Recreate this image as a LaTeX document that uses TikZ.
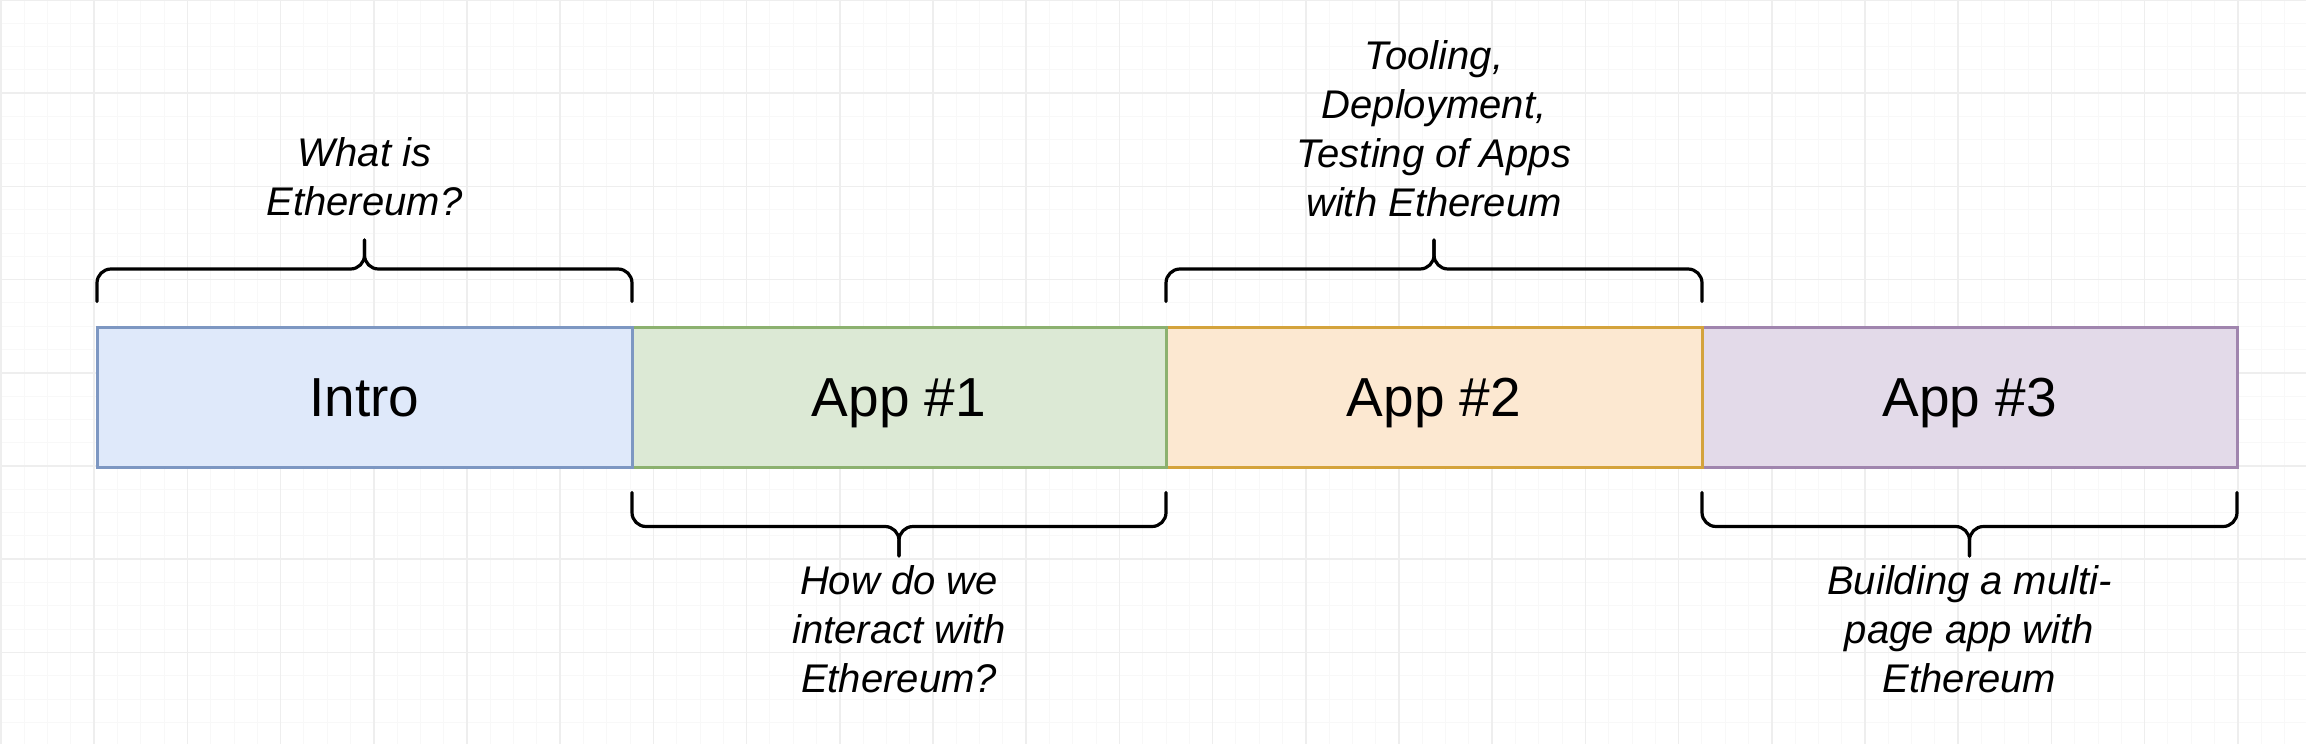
\documentclass[tikz,border=0pt]{standalone}
\usepackage{fontspec}
\setmainfont{Liberation Sans}
\definecolor{introfill}{HTML}{DFE9FA}
\definecolor{introdraw}{HTML}{7D97C2}
\definecolor{appafill}{HTML}{DCE9D5}
\definecolor{appadraw}{HTML}{8CB16F}
\definecolor{appbfill}{HTML}{FCE8D1}
\definecolor{appbdraw}{HTML}{D4A33C}
\definecolor{appcfill}{HTML}{E3DAE9}
\definecolor{appcdraw}{HTML}{A085AE}
\definecolor{minorgrid}{HTML}{F8F8F8}
\definecolor{majorgrid}{HTML}{EEEEEE}
\tikzset{
  stagebox/.style={rectangle, line width=3pt, inner sep=0pt, outer sep=0pt,
    minimum height=140pt, text height=40pt, text depth=2pt,
    font=\fontsize{55}{60}\selectfont},
  bracestyle/.style={line width=3.2pt, black, rounded corners=14pt, line cap=round},
  bracelabel/.style={anchor=north, inner sep=0pt, align=center,
    font=\itshape\fontsize{40}{49}\selectfont},
  minorline/.style={minorgrid, line width=1pt},
  majorline/.style={majorgrid, line width=1.5pt}
}
\newcommand\TopBrace[2]{%
  \pgfmathsetmacro\bxc{(#1+#2)/2}%
  \draw[bracestyle] (#1,301.5) -- (#1,269) -- (\bxc,269) -- (\bxc,240);
  \draw[bracestyle] (#2,301.5) -- (#2,269) -- (\bxc,269) -- (\bxc,240);
}
\newcommand\BottomBrace[2]{%
  \pgfmathsetmacro\bxc{(#1+#2)/2}%
  \draw[bracestyle] (#1,492.5) -- (#1,526.5) -- (\bxc,526.5) -- (\bxc,556);
  \draw[bracestyle] (#2,492.5) -- (#2,526.5) -- (\bxc,526.5) -- (\bxc,556);
}
\begin{document}
\begin{tikzpicture}[x=1pt,y=-1pt]
\useasboundingbox (0,0) rectangle (2306,744);
\fill[white] (0,0) rectangle (2306,744);
% grid
\foreach \i in {0,...,99}{\draw[minorline] ({1+23.3*\i},0) -- ({1+23.3*\i},744);}
\foreach \i in {0,...,32}{\draw[minorline] (0,{23.3*\i}) -- (2306,{23.3*\i});}
\foreach \i in {0,...,24}{\draw[majorline] ({1+93.2*\i},0) -- ({1+93.2*\i},744);}
\foreach \i in {0,...,7}{\draw[majorline] (0,{93.2*\i}) -- (2306,{93.2*\i});}
% stages
\node[stagebox, fill=appcfill, draw=appcdraw, minimum width=535pt] (app3) at (1969.5,397) {App \#3};
\node[stagebox, fill=appbfill, draw=appbdraw, minimum width=536pt] (app2) at (1434,397) {App \#2};
\node[stagebox, fill=appafill, draw=appadraw, minimum width=534pt] (app1) at (899,397) {App \#1};
\node[stagebox, fill=introfill, draw=introdraw, minimum width=535pt] (intro) at (364.5,397) {Intro};
% braces
\TopBrace{97}{632}
\TopBrace{1166}{1702}
\BottomBrace{632}{1166}
\BottomBrace{1702}{2237}
% labels
\node[bracelabel] (lintro) at (364.5,137) {What is\\Ethereum?};
\node[bracelabel] (lapp2) at (1434,40) {Tooling,\\Deployment,\\Testing of Apps\\with Ethereum};
\node[bracelabel] (lapp1) at (899,565) {How do we\\interact with\\Ethereum?};
\node[bracelabel] (lapp3) at (1969.5,565) {Building a multi-\\page app with\\Ethereum};
\end{tikzpicture}
\end{document}
